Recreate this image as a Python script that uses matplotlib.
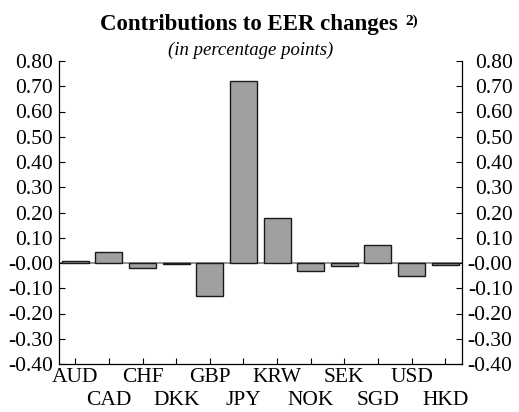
import numpy as np
import matplotlib
matplotlib.use("Agg")
import matplotlib.pyplot as plt
import matplotlib.transforms as mtrans

currencies = ["AUD", "CAD", "CHF", "DKK", "GBP", "JPY",
              "KRW", "NOK", "SEK", "SGD", "USD", "HKD"]
contributions = [0.008, 0.045, -0.018, -0.003, -0.132, 0.72,
                 0.177, -0.03, -0.013, 0.072, -0.05, -0.007]
y_ticks = [0.8, 0.7, 0.6, 0.5, 0.4, 0.3, 0.2, 0.1, 0.0,
           -0.1, -0.2, -0.3, -0.4]

plt.rcParams["font.family"] = ["Liberation Serif", "DejaVu Serif"]

fig = plt.figure(figsize=(5.19, 4.12), dpi=100)
ax = fig.add_axes([58.5 / 519, 48 / 412, 403.5 / 519, 303 / 412])

x = np.arange(len(currencies))
ax.axhline(0, color="#808080", linewidth=1.2, zorder=1)
ax.bar(x, contributions, width=0.8, color="#a0a0a0",
       edgecolor="#1a1a1a", linewidth=1.0, zorder=2)

ax.set_xlim(-0.5, len(currencies) - 0.5)
ax.set_ylim(-0.4, 0.8)

# staggered labels: even ones on major ticks, odd ones on minor ticks
ax.set_xticks(x[::2])
ax.set_xticklabels(currencies[::2], fontsize=15.5)
ax.set_xticks(x[1::2], minor=True)
ax.set_xticklabels(currencies[1::2], minor=True, fontsize=15.5)
ax.tick_params(axis="x", which="major", pad=3)
ax.tick_params(axis="x", which="minor", pad=19.5)

ax.set_yticks(y_ticks)
ylabels = ["-0.00" if v == 0 else f"{v:.2f}" for v in y_ticks]
ax.set_yticklabels(ylabels, fontsize=15.5)

ax.tick_params(axis="both", which="both", direction="in", length=4, width=0.8)
ax.tick_params(axis="y", right=True, labelright=True, pad=4)

ax.spines["top"].set_visible(False)
for side in ["left", "right", "bottom"]:
    ax.spines[side].set_linewidth(0.9)

# right labels are right-aligned near the figure edge
offset = mtrans.ScaledTranslation(45 / 100, 0, fig.dpi_scale_trans)
for tick in ax.yaxis.get_major_ticks():
    tick.label2.set_horizontalalignment("right")
    tick.label2.set_transform(tick.label2.get_transform() + offset)

fig.text(0.48, 0.94, "Contributions to EER changes", ha="center",
         va="center", fontsize=16.5, fontweight="bold")
fig.text(0.781, 0.948, "2)", ha="left", va="center",
         fontsize=11, fontweight="bold")
fig.text(0.483, 0.878, "(in percentage points)", ha="center",
         va="center", fontsize=13.5, style="italic")

fig.savefig("out.png", dpi=100)
